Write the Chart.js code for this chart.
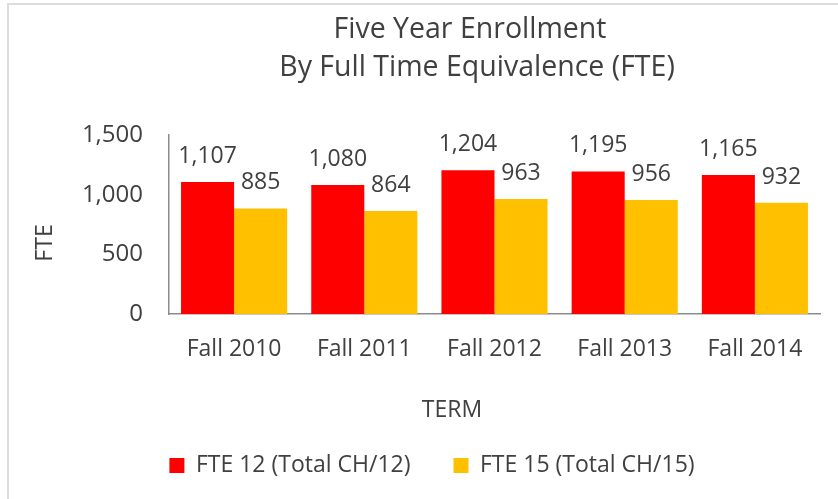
<!DOCTYPE html>
<html>
<head>
<meta charset="utf-8">
<script src="https://cdn.jsdelivr.net/npm/chart.js@4"></script>
<style>
  html, body { margin: 0; padding: 0; background: #fff; overflow: hidden; }
  #frame { position: absolute; left: 7px; top: 3px; width: 900px; height: 520px; border: 2px solid #dcdcdc; }
  #enroll-chart { position: absolute; left: 0; top: 0; }
</style>
</head>
<body>
<div id="frame"></div>
<canvas id="enroll-chart" width="838" height="499"></canvas>
<script>
const terms = ['Fall 2010', 'Fall 2011', 'Fall 2012', 'Fall 2013', 'Fall 2014'];
const fte12 = [1107, 1080, 1204, 1195, 1165];
const fte15 = [885, 864, 963, 956, 932];
const seriesNames = ['FTE 12 (Total CH/12)', 'FTE 15 (Total CH/15)'];
const yTicks = [0, 500, 1000, 1500];
const titleLines = ['Five Year Enrollment', 'By Full Time Equivalence (FTE)'];
const xTitle = 'TERM';
const yTitle = 'FTE';

const textColor = '#404040';
const fontFamily = "'Open Sans', sans-serif";

// value labels above each bar
const barLabels = {
    id: 'barLabels',
    afterDatasetsDraw(chart) {
        const ctx = chart.ctx;
        ctx.save();
        ctx.font = '23px ' + fontFamily;
        ctx.fillStyle = textColor;
        ctx.textAlign = 'center';
        ctx.textBaseline = 'alphabetic';
        chart.data.datasets.forEach((ds, i) => {
            const meta = chart.getDatasetMeta(i);
            meta.data.forEach((bar, j) => {
                ctx.fillText(ds.data[j].toLocaleString('en-US'), bar.x, bar.y - 19);
            });
        });
        ctx.restore();
    }
};

// title and axis titles placed like the excel original
const chartTexts = {
    id: 'chartTexts',
    afterDraw(chart) {
        const ctx = chart.ctx;
        ctx.save();
        ctx.fillStyle = textColor;
        ctx.textAlign = 'center';
        ctx.textBaseline = 'alphabetic';
        ctx.font = '28.5px ' + fontFamily;
        ctx.fillText(titleLines[0], 470, 38);
        ctx.fillText(titleLines[1], 477, 76);
        ctx.font = '23px ' + fontFamily;
        ctx.fillText(xTitle, 452, 417);
        ctx.translate(52, 243);
        ctx.rotate(-Math.PI / 2);
        ctx.fillText(yTitle, 0, 0);
        ctx.restore();
    }
};

var ctx = document.getElementById('enroll-chart').getContext('2d');
window.enrollChart = new Chart(ctx, {
    type: 'bar',
    data: {
        labels: terms,
        datasets: [{
            label: seriesNames[0],
            data: fte12,
            backgroundColor: '#ff0000',
            barPercentage: 1.0,
            categoryPercentage: 0.815
        }, {
            label: seriesNames[1],
            data: fte15,
            backgroundColor: '#ffc000',
            barPercentage: 1.0,
            categoryPercentage: 0.815
        }]
    },
    options: {
        responsive: false,
        animation: false,
        layout: {
            padding: { left: 44, right: 18, top: 135, bottom: 12 }
        },
        scales: {
            x: {
                grid: { display: false, drawTicks: false },
                border: { display: true, color: '#8c8c8c', width: 1.5 },
                ticks: {
                    color: textColor,
                    padding: 22,
                    font: { family: fontFamily, size: 23 }
                },
                afterFit(scale) { scale.height = 97; }
            },
            y: {
                min: 0,
                max: 1500,
                afterBuildTicks(scale) {
                    scale.ticks = yTicks.map(v => ({ value: v }));
                },
                grid: { display: false, drawTicks: false },
                border: { display: true, color: '#8c8c8c', width: 1.5 },
                ticks: {
                    color: textColor,
                    padding: 26,
                    font: { family: fontFamily, size: 24 }
                },
                afterFit(scale) { scale.width = 125; }
            }
        },
        plugins: {
            legend: {
                position: 'bottom',
                labels: {
                    color: textColor,
                    boxWidth: 15,
                    boxHeight: 15,
                    padding: 43,
                    font: { family: fontFamily, size: 23 }
                }
            },
            tooltip: { enabled: false }
        }
    },
    plugins: [barLabels, chartTexts]
});
</script>
</body>
</html>
